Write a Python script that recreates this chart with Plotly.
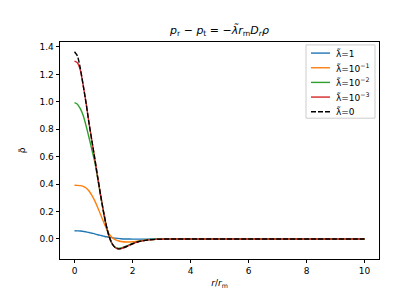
import plotly.graph_objects as go

r_vals = [0.0, 0.1, 0.2, 0.3, 0.4, 0.5, 0.6, 0.7, 0.8, 0.9, 1.0, 1.1, 1.2, 1.3, 1.4,
          1.5, 1.6, 1.8, 2.0, 2.2, 2.5, 2.8, 3.2, 4.0, 5.0, 6.0, 7.0, 8.0, 9.0, 10.0]

rho_lam1 = [0.060, 0.059, 0.058, 0.055, 0.052, 0.047, 0.042, 0.037, 0.031, 0.026, 0.021, 0.016,
            0.012, 0.009, 0.006, 0.004, 0.002, 0.000, -0.001, -0.001, -0.001, 0.0, 0.0,
            0.0, 0.0, 0.0, 0.0, 0.0, 0.0, 0.0]
rho_lam1e1 = [0.392, 0.391, 0.389, 0.384, 0.372, 0.350, 0.318, 0.278, 0.230, 0.178, 0.125, 0.075,
              0.035, 0.010, -0.005, -0.013, -0.018, -0.022, -0.020, -0.015, -0.007, -0.003, 0.0,
              0.0, 0.0, 0.0, 0.0, 0.0, 0.0, 0.0]
rho_lam1e2 = [0.994, 0.983, 0.950, 0.900, 0.825, 0.740, 0.650, 0.560, 0.440, 0.315, 0.195, 0.090,
              0.010, -0.037, -0.060, -0.068, -0.066, -0.050, -0.032, -0.018, -0.007, -0.002, 0.0,
              0.0, 0.0, 0.0, 0.0, 0.0, 0.0, 0.0]
rho_lam1e3 = [1.297, 1.285, 1.232, 1.120, 0.990, 0.845, 0.715, 0.585, 0.450, 0.320, 0.200, 0.095,
              0.015, -0.035, -0.062, -0.072, -0.070, -0.055, -0.035, -0.020, -0.008, -0.003, 0.0,
              0.0, 0.0, 0.0, 0.0, 0.0, 0.0, 0.0]
rho_lam0 = [1.365, 1.335, 1.245, 1.120, 0.990, 0.845, 0.715, 0.585, 0.450, 0.320, 0.200, 0.095,
            0.015, -0.035, -0.062, -0.072, -0.070, -0.055, -0.035, -0.020, -0.008, -0.003, 0.0,
            0.0, 0.0, 0.0, 0.0, 0.0, 0.0, 0.0]

labels = ["λ̃=1", "λ̃=10<sup>−1</sup>", "λ̃=10<sup>−2</sup>", "λ̃=10<sup>−3</sup>", "λ̃=0"]
colors = ["#1f77b4", "#ff7f0e", "#2ca02c", "#d62728", "black"]
series = [rho_lam1, rho_lam1e1, rho_lam1e2, rho_lam1e3, rho_lam0]

x_ticks = [0, 2, 4, 6, 8, 10]
y_ticks = [0.0, 0.2, 0.4, 0.6, 0.8, 1.0, 1.2, 1.4]

W, H = 412, 291
ML, MR, MT, MB = 52, 41, 34, 32
PW, PH = W - ML - MR, H - MT - MB
DASH = "5px,2px"

fig = go.Figure()
for lab, col, ys in zip(labels, colors, series):
    dash = DASH if col == "black" else "solid"
    fig.add_trace(go.Scatter(
        x=r_vals, y=ys, mode="lines", name=lab, showlegend=False,
        line=dict(color=col, width=1.4, dash=dash, shape="spline", smoothing=0.6),
    ))

font = "DejaVu Sans, sans-serif"

# Legend drawn in matplotlib style (compact rows)
def px_x(p):
    return (p - ML) / PW

def px_y(p):
    return (H - MB - p) / PH

shapes = [dict(
    type="rect", xref="paper", yref="paper",
    x0=px_x(298), x1=px_x(367), y0=px_y(113), y1=px_y(37),
    line=dict(color="#cccccc", width=1), fillcolor="rgba(255,255,255,0.8)", layer="above",
)]
annotations = []
for i, (lab, col) in enumerate(zip(labels, colors)):
    yy = px_y(45.5 + 15.2 * i)
    shapes.append(dict(
        type="line", xref="paper", yref="paper",
        x0=px_x(303), x1=px_x(322), y0=yy, y1=yy, layer="above",
        line=dict(color=col, width=1.4, dash=DASH if col == "black" else "solid"),
    ))
    annotations.append(dict(
        xref="paper", yref="paper", x=px_x(326), y=yy, xanchor="left", yanchor="middle",
        text=lab, showarrow=False, font=dict(size=9, family=font, color="black"),
    ))

fig.update_layout(
    width=W, height=H,
    margin=dict(l=ML, r=MR, t=MT, b=MB),
    paper_bgcolor="white", plot_bgcolor="white",
    font=dict(family=font, size=9, color="black"),
    title=dict(
        text="<i>p</i><sub>r</sub> − <i>p</i><sub>t</sub> = −<i>λ̃r</i><sub>m</sub><i>D</i><sub><i>r</i></sub><i>ρ</i>",
        x=0.5, xref="paper", y=1, yref="container", yanchor="top", pad=dict(t=18),
        font=dict(size=11, family=font),
    ),
    showlegend=False,
    shapes=shapes,
    annotations=annotations,
)
axis_common = dict(
    showline=True, linecolor="black", linewidth=0.8, mirror=True,
    ticks="outside", ticklen=3.5, tickwidth=0.8, tickcolor="black",
    showgrid=False, zeroline=False,
)
fig.update_xaxes(
    range=[-0.5, 10.5], tickvals=x_ticks, ticktext=[str(v) for v in x_ticks],
    title=dict(text="<i>r</i>/<i>r</i><sub>m</sub>", standoff=4, font=dict(size=9)),
    **axis_common,
)
fig.update_yaxes(
    range=[-0.146, 1.436], tickvals=y_ticks, ticktext=[f"{v:.1f}" for v in y_ticks],
    title=dict(text="ρ̃", standoff=12, font=dict(size=9)),
    **axis_common,
)

fig.write_html("out.html")
